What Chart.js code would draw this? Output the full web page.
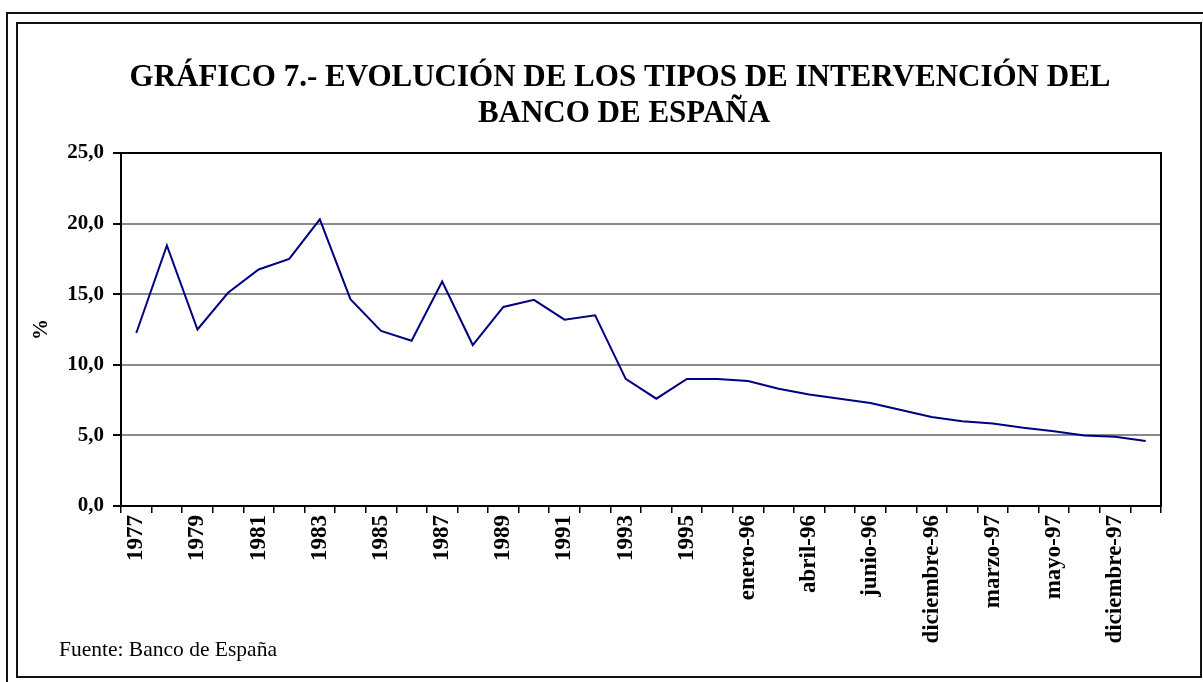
<!DOCTYPE html>
<html>
<head>
<meta charset="utf-8">
<script src="https://cdn.jsdelivr.net/npm/chart.js@4"></script>
<style>
  html, body { margin: 0; padding: 0; background: #fff; }
  canvas { display: block; }
</style>
</head>
<body>
<canvas id="tiposChart" width="1203" height="682"></canvas>
<script>
// Datos
const periodos = [
    '1977', '1978', '1979', '1980', '1981', '1982', '1983', '1984', '1985', '1986',
    '1987', '1988', '1989', '1990', '1991', '1992', '1993', '1994', '1995',
    'diciembre-95', 'enero-96', 'marzo-96', 'abril-96', 'mayo-96', 'junio-96',
    'octubre-96', 'diciembre-96', 'enero-97', 'marzo-97', 'abril-97', 'mayo-97',
    'junio-97', 'diciembre-97', 'febrero-98'
];
const tipos = [
    12.25, 18.45, 12.5, 15.1, 16.75, 17.5, 20.3, 14.65, 12.4, 11.7,
    15.9, 11.4, 14.1, 14.6, 13.2, 13.5, 9.0, 7.6, 9.0,
    9.0, 8.85, 8.3, 7.9, 7.6, 7.3,
    6.8, 6.3, 6.0, 5.85, 5.55, 5.3,
    5.0, 4.9, 4.6
];
const tituloLineas = ['GRÁFICO 7.- EVOLUCIÓN DE LOS TIPOS DE INTERVENCIÓN DEL', 'BANCO DE ESPAÑA'];
const fuente = 'Fuente: Banco de España';

const serif = '"Liberation Serif", "Times New Roman", serif';

// Marcos, título y fuente dibujados a mano
const marcoPlugin = {
    id: 'marco',
    beforeDraw(chart) {
        const ctx = chart.ctx;
        ctx.save();
        ctx.fillStyle = '#fff';
        ctx.fillRect(0, 0, chart.width, chart.height);
        ctx.strokeStyle = '#111';
        ctx.lineWidth = 2;
        ctx.beginPath();
        ctx.moveTo(7, chart.height);
        ctx.lineTo(7, 13);
        ctx.lineTo(chart.width, 13);
        ctx.stroke();
        ctx.strokeRect(17, 23, 1184, 654);
        ctx.restore();
    },
    afterDraw(chart) {
        const ctx = chart.ctx;
        const area = chart.chartArea;
        ctx.save();
        ctx.strokeStyle = '#000';
        ctx.lineWidth = 2;
        ctx.strokeRect(area.left, area.top, area.right - area.left, area.bottom - area.top);
        ctx.fillStyle = '#000';
        ctx.textAlign = 'center';
        ctx.font = 'bold 31px ' + serif;
        ctx.fillText(tituloLineas[0], 620, 86);
        ctx.fillText(tituloLineas[1], 624, 122);
        ctx.textAlign = 'left';
        ctx.font = '21.5px ' + serif;
        ctx.fillText(fuente, 59, 656);
        ctx.restore();
    }
};

const tiposChart = new Chart(
    document.getElementById('tiposChart'),
    {
        type: 'line',
        data: {
            labels: periodos,
            datasets: [{
                label: 'Tipo de intervención',
                data: tipos,
                borderColor: '#000080',
                borderWidth: 2,
                pointRadius: 0,
                tension: 0,
                fill: false
            }]
        },
        options: {
            responsive: false,
            animation: false,
            layout: {
                padding: { top: 153, right: 42, bottom: 0, left: 0 }
            },
            plugins: {
                legend: { display: false },
                title: { display: false },
                tooltip: { enabled: false }
            },
            scales: {
                x: {
                    offset: true,
                    afterFit(scale) { scale.height = 176; },
                    grid: {
                        offset: true,
                        drawOnChartArea: false,
                        drawTicks: true,
                        tickLength: 7,
                        tickColor: '#000',
                        lineWidth: 1.5
                    },
                    border: { color: '#000', width: 2 },
                    ticks: {
                        autoSkip: false,
                        maxRotation: 90,
                        minRotation: 90,
                        padding: 2,
                        color: '#000',
                        font: { family: serif, size: 23, weight: 'bold' },
                        callback(value, index) {
                            return index % 2 === 0 ? this.getLabelForValue(value) : '';
                        }
                    }
                },
                y: {
                    min: 0,
                    max: 25,
                    afterFit(scale) { scale.width = 121; },
                    grid: {
                        color: '#8a8a8a',
                        lineWidth: 2,
                        tickColor: '#000',
                        tickLength: 8
                    },
                    border: { color: '#000', width: 2 },
                    ticks: {
                        stepSize: 5,
                        padding: 9,
                        color: '#000',
                        font: { family: serif, size: 21, weight: 'bold' },
                        callback(value) {
                            return value.toFixed(1).replace('.', ',');
                        }
                    },
                    title: {
                        display: true,
                        text: '%',
                        color: '#000',
                        padding: { top: 29, bottom: 0 },
                        font: { family: serif, size: 21, weight: 'bold' }
                    }
                }
            }
        },
        plugins: [marcoPlugin]
    }
);
</script>
</body>
</html>
